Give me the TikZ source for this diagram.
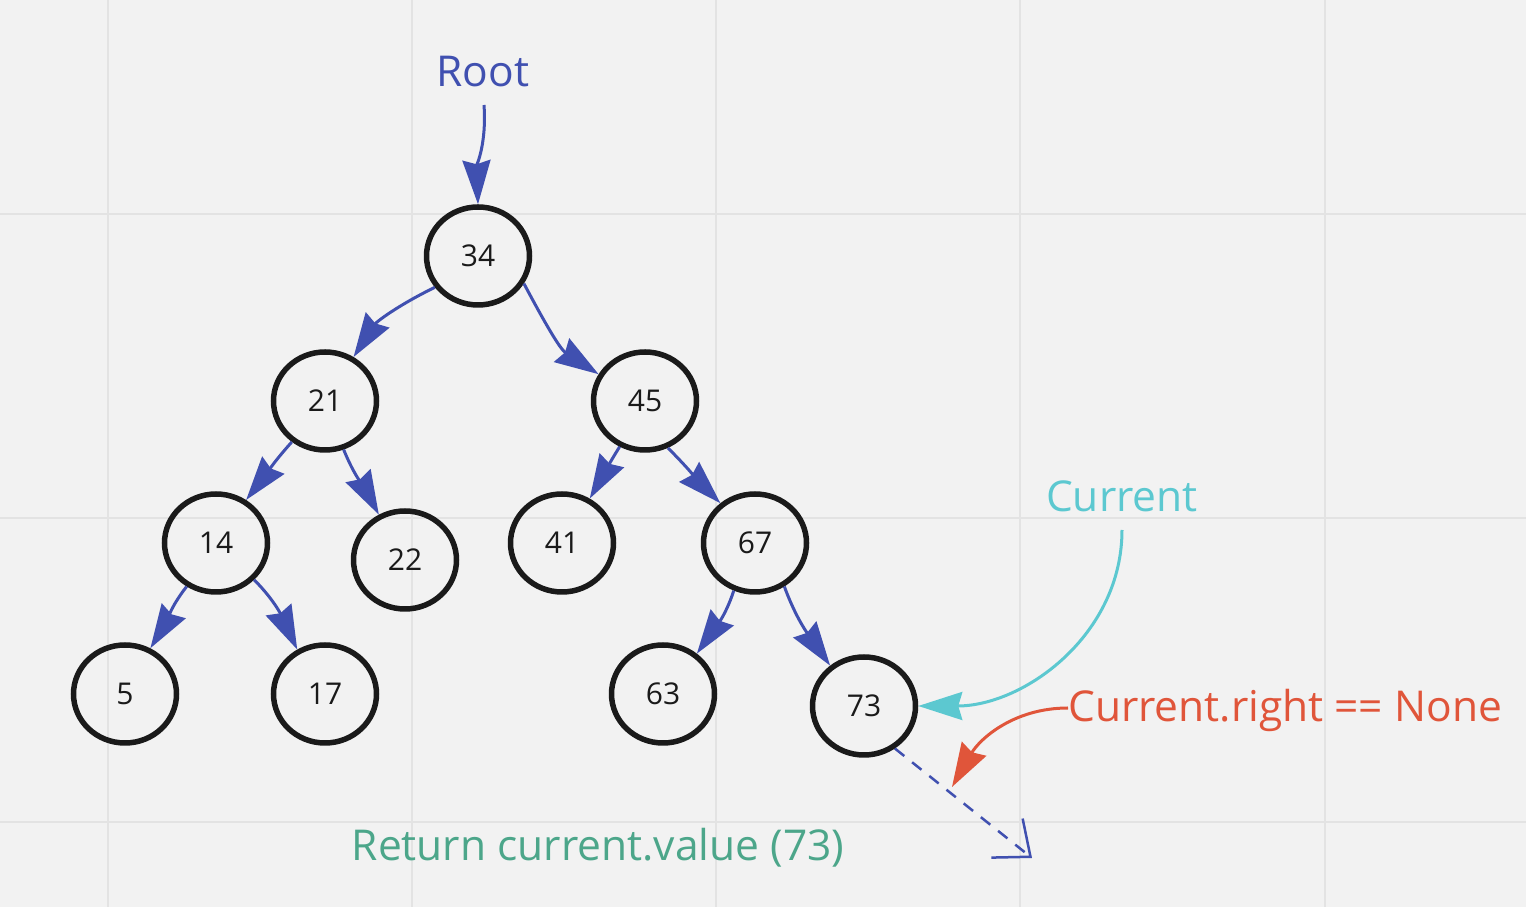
\documentclass[tikz,border=0pt]{standalone}
\usepackage{fontspec}
\setmainfont{Open Sans}
\usetikzlibrary{arrows.meta,shapes.geometric}
\definecolor{boardgray}{HTML}{F2F2F2}
\definecolor{gridgray}{HTML}{E3E3E3}
\definecolor{treeblue}{HTML}{4050B0}
\definecolor{nodeblack}{HTML}{1A1A1A}
\definecolor{curcyan}{HTML}{5CC8D0}
\definecolor{nonered}{HTML}{E0553A}
\definecolor{retgreen}{HTML}{4CA68A}
\tikzstyle{bst} = [draw=nodeblack, ellipse, line width=5.5pt, minimum width=103pt, minimum height=98pt, inner sep=0pt, text=nodeblack, font=\fontsize{30}{36}\selectfont]
\tikzstyle{link} = [draw=treeblue, line width=3pt, -{Stealth[length=44pt,width=28pt,inset=4pt]}]
\tikzstyle{lbl} = [inner sep=0pt, font=\fontsize{42.5}{50}\selectfont]
\tikzstyle{gridline} = [draw=gridgray, line width=2pt]

\begin{document}
\begin{tikzpicture}[x=1pt, y=1pt]

  % board and its grid
    \fill [boardgray] (0,0) rectangle (1526,907);
    \useasboundingbox (0,0) rectangle (1526,907);
    \foreach \gx in {108,412,716,1020,1325}
      \draw [gridline] (\gx,0) -- (\gx,907);
    \foreach \gy in {85,389,693}
      \draw [gridline] (0,\gy) -- (1526,\gy);

  % the tree
    \node [bst] (n34) at (478,651) {34};
    \node [bst] (n21) at (325,506) {21};
    \node [bst] (n45) at (645,506) {45};
    \node [bst] (n14) at (216,364) {14};
    \node [bst] (n22) at (405,347) {22};
    \node [bst] (n41) at (562,364) {41};
    \node [bst] (n67) at (755,364) {67};
    \node [bst] (n5)  at (125,213) {5};
    \node [bst] (n17) at (325,213) {17};
    \node [bst] (n63) at (663,213) {63};
    \node [bst] (n73) at (864,201) {73};

  % labels
    \node [lbl, text=treeblue, anchor=base] (root) at (483,820) {Root};
    \node [lbl, text=curcyan, anchor=base] (cur) at (1122,395) {Current};
    \node [lbl, text=nonered, anchor=base west] (cright) at (1068,185) {Current.right == None};
    \node [lbl, text=retgreen, anchor=base] (ret) at (598,46) {Return current.value (73)};
    \coordinate (rtip) at (952,120);
    \coordinate (dend) at (1032,49);

  % Once the nodes are placed, connecting them is easy.
    \draw [link] ([shift={(1pt,-18pt)}]root.base) to[out=-86,in=92] (n34.north);
    \draw [link] (n34.216) to[out=206,in=57] (n21.57);
    \draw [link] (n34.329) to[out=-62,in=147] (n45.150);
    \draw [link] (n21.231) to[out=228,in=52] (n14.55);
    \draw [link] (n21.291) to[out=-68,in=118] (n22.120);
    \draw [link] (n45.241) to[out=238,in=60] (n41.58);
    \draw [link] (n45.296) to[out=-45,in=135] (n67.131);
    \draw [link] (n14.236) to[out=232,in=58] (n5.61);
    \draw [link] (n14.316) to[out=-45,in=115] (n17.122);
    \draw [link] (n67.246) to[out=252,in=55] (n63.50);
    \draw [link] (n67.304) to[out=-70,in=125] (n73.130);

    \draw [link, draw=curcyan] ([yshift=-18pt]cur.base) to[out=-90,in=0] (n73.east);
    \draw [link, draw=nonered] ([yshift=14pt]cright.base west) to[out=180,in=60] (rtip);
    \draw [draw=treeblue, line width=2.5pt, dash pattern=on 12pt off 10pt, -{Straight Barb[length=30pt,width=50pt]}] (n73.306) -- (dend);

  \end{tikzpicture}
\end{document}
